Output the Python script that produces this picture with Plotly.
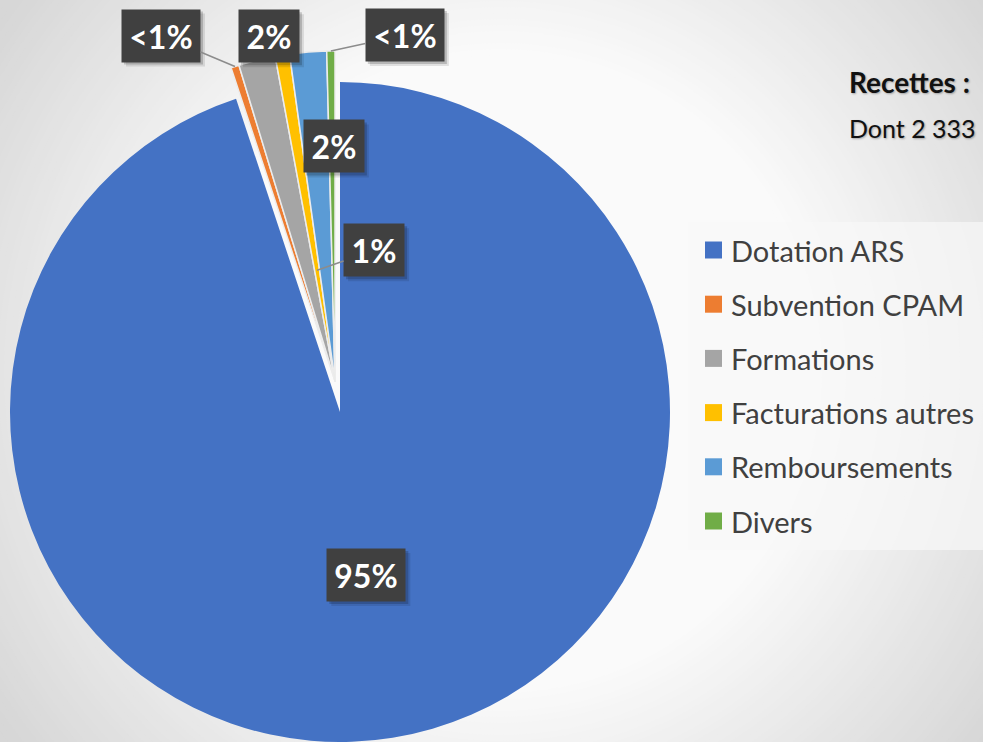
import math
import plotly.graph_objects as go

W, H = 983, 742

# Data: share of income (%)
labels = ["Dotation ARS", "Subvention CPAM", "Formations",
          "Facturations autres", "Remboursements", "Divers"]
values = [94.9, 0.4, 1.8, 0.7, 1.8, 0.4]
colors = ["#4472C4", "#ED7D31", "#A5A5A5", "#FFC000", "#5B9BD5", "#70AD47"]
side_text = ["<b>Recettes :</b>", "Dont 2 333"]

total = sum(values)
pct_text = []
for v in values:
    p = round(v / total * 100)
    pct_text.append("<1%" if p < 1 else f"{p}%")

CLEAR = "rgba(0,0,0,0)"
FONT = "Lato"


# margins are zero, so paper coords are just pixels / size
def px(x):
    return x / W


def py(y):
    return 1 - y / H


R = 330
main_c = (340, 412)    # the big slice
pull_c = (335, 381)    # the small slices, pulled out a bit
pulled = [False, True, True, True, True, True]

fig = go.Figure()

# big slice
fig.add_trace(go.Pie(
    labels=labels, values=values, sort=False, direction="clockwise",
    marker=dict(colors=[CLEAR if p else c for c, p in zip(colors, pulled)],
                line=dict(width=0)),
    textinfo="none", hoverinfo="label+percent", showlegend=False,
    domain=dict(x=[px(main_c[0] - R), px(main_c[0] + R)],
                y=[py(main_c[1] + R), py(main_c[1] - R)]),
))

# small slices, exploded
fig.add_trace(go.Pie(
    labels=labels, values=values, sort=False, direction="clockwise",
    marker=dict(colors=[c if p else CLEAR for c, p in zip(colors, pulled)],
                line=dict(color=["#ececec" if p else CLEAR for p in pulled],
                          width=[1.5 if p else 0 for p in pulled])),
    textinfo="none", hoverinfo="label+percent", showlegend=False,
    domain=dict(x=[px(pull_c[0] - R), px(pull_c[0] + R)],
                y=[py(pull_c[1] + R), py(pull_c[1] - R)]),
))

# background: soft radial gradient
shapes = []
gc = (500, 371)
for r in range(640, 314, -6):
    t = min(max((r - 320) / (610 - 320), 0), 1)
    g = round(250 - (250 - 215) * t)
    shapes.append(dict(type="circle", layer="below", xref="paper", yref="paper",
                       x0=px(gc[0] - r), x1=px(gc[0] + r),
                       y0=py(gc[1] + r), y1=py(gc[1] - r),
                       fillcolor=f"rgb({g},{g},{g})", line_width=0))

# legend box
shapes.append(dict(type="rect", layer="below", xref="paper", yref="paper",
                   x0=px(688), x1=px(990), y0=py(550), y1=py(222),
                   fillcolor="rgba(248,248,248,0.7)", line_width=0))

annotations = []

# legend entries (drawn by hand to get the spacing)
for i, (lab, col) in enumerate(zip(labels, colors)):
    yc = 250 + 54.2 * i
    shapes.append(dict(type="rect", xref="paper", yref="paper",
                       x0=px(705), x1=px(722), y0=py(yc + 8.5), y1=py(yc - 8.5),
                       fillcolor=col, line_width=0))
    annotations.append(dict(text=lab, xref="paper", yref="paper",
                            x=px(729), y=py(yc), xanchor="left", yanchor="middle",
                            showarrow=False,
                            font=dict(family=FONT, size=29, color="#404040")))

# data labels: dark boxes, some with leader lines
label_r = [0.5, 1.0, 1.0, 0.34, 0.71, 1.0]          # where on the slice
label_off = [(0, 0), (-74, -31), (12, -24), (57, -20), (18, -1), (74, -16)]
label_line = [False, True, False, True, False, True]

cum = 0
for i, v in enumerate(values):
    theta = math.radians((cum + v / 2) / total * 360)
    cum += v
    cx, cy = pull_c if pulled[i] else main_c
    r = R * label_r[i]
    ax_pt = cx + r * math.sin(theta)
    ay_pt = cy - r * math.cos(theta)
    w = 18 * len(pct_text[i]) + 14
    # soft drop shadow under the box
    bx = ax_pt + label_off[i][0]
    by = ay_pt + label_off[i][1]
    for k, a in ((5, 0.10), (3, 0.18)):
        shapes.append(dict(type="rect", layer="above", xref="paper", yref="paper",
                           x0=px(bx - w / 2 - 5 + k - 1), x1=px(bx + w / 2 + 5 + k),
                           y0=py(by + 26 + k), y1=py(by - 26 + k - 1),
                           fillcolor=f"rgba(0,0,0,{a})", line_width=0))
    annotations.append(dict(text=pct_text[i], xref="paper", yref="paper",
                            x=px(ax_pt), y=py(ay_pt),
                            ax=label_off[i][0], ay=label_off[i][1],
                            showarrow=True, arrowhead=0, standoff=0,
                            arrowcolor="#8c8c8c" if label_line[i] else CLEAR,
                            arrowwidth=1.5,
                            width=w, height=42, borderpad=5, valign="middle",
                            bgcolor="#404040",
                            font=dict(family=FONT, size=32, color="white",
                                      weight="bold")))

# side text, cut by the right edge like the original
for txt, yc, sz in zip(side_text, [82, 128], [28, 25]):
    annotations.append(dict(text=txt, xref="paper", yref="paper",
                            x=px(847), y=py(yc), xanchor="left", yanchor="middle",
                            showarrow=False,
                            font=dict(family=FONT, size=sz, color="#111111",
                                      shadow="1px 1px 2px rgba(0,0,0,0.3)")))

fig.update_layout(
    width=W, height=H,
    margin=dict(l=0, r=0, t=0, b=0),
    paper_bgcolor="#d7d7d7",
    plot_bgcolor="#d7d7d7",
    xaxis=dict(visible=False),
    yaxis=dict(visible=False),
    shapes=shapes,
    annotations=annotations,
)

# drop the browser's default body margin so the figure sits at 0,0
fig.write_html("out.html", config={"displayModeBar": False},
               post_script="document.body.style.margin='0';")
